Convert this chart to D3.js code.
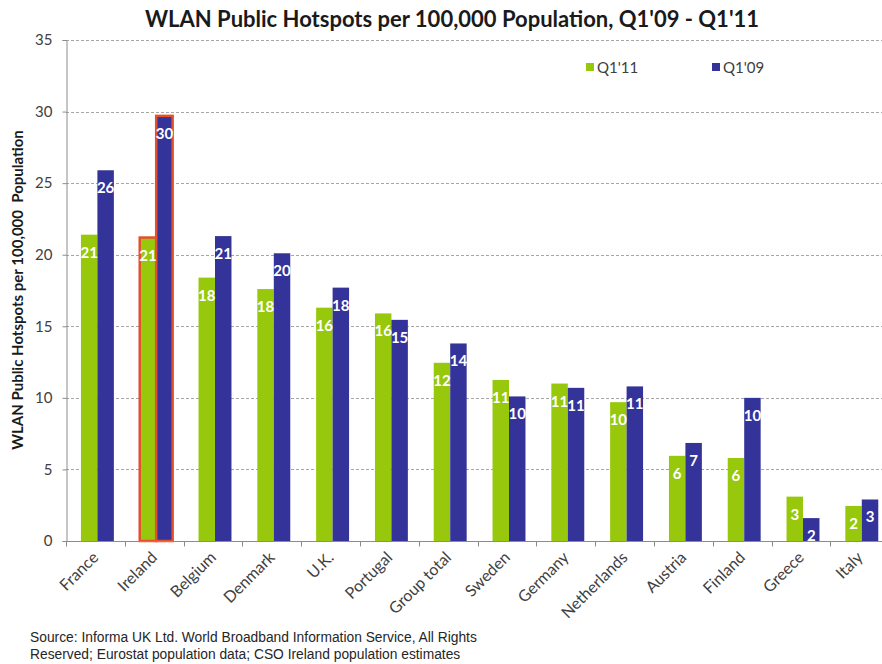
<!DOCTYPE html>
<html>
<head>
<meta charset="utf-8">
<script src="https://cdn.jsdelivr.net/npm/d3@7"></script>
<style>
  html, body { margin: 0; padding: 0; background: #fff; }
  svg { display: block; }
</style>
</head>
<body>
<svg id="chart" width="882" height="664"></svg>
<script>
// Countries, in the order shown
const countries = ["France", "Ireland", "Belgium", "Denmark", "U.K.", "Portugal", "Group total",
  "Sweden", "Germany", "Netherlands", "Austria", "Finland", "Greece", "Italy"];
// Hotspots per 100,000 population
const q111 = [21.4, 21.2, 18.4, 17.6, 16.3, 15.9, 12.45, 11.25, 11.0, 9.7, 5.95, 5.8, 3.1, 2.45];
const q109 = [25.9, 29.7, 21.3, 20.1, 17.7, 15.45, 13.8, 10.1, 10.7, 10.8, 6.85, 10.0, 1.6, 2.9];
const seriesNames = ["Q1'11", "Q1'09"];
const yTicks = [0, 5, 10, 15, 20, 25, 30, 35];
const highlighted = "Ireland";

const colors = { "Q1'11": "#97c80b", "Q1'09": "#333399" };
const font = "Lato, 'Open Sans', sans-serif";

const svg = d3.select("#chart");
const W = 882, H = 664;
const plotLeft = 66, plotTop = 40, plotBottom = 541;
const band = 58.8;

const x0 = d3.scaleBand().domain(countries)
  .range([plotLeft + 2, plotLeft + 2 + band * countries.length])
  .paddingInner(0.44).paddingOuter(0.22);
const x1 = d3.scaleBand().domain(seriesNames).range([0, x0.bandwidth()]).padding(0);
const y = d3.scaleLinear().domain([0, 35]).range([plotBottom, plotTop]);

const rows = countries.map((c, i) => ({ country: c, values: [
  { key: "Q1'11", value: q111[i] }, { key: "Q1'09", value: q109[i] }] }));

// gridlines
svg.append("g").selectAll("line").data(yTicks.filter(t => t > 0)).join("line")
  .attr("x1", plotLeft).attr("x2", W)
  .attr("y1", d => Math.round(y(d)) + 0.5).attr("y2", d => Math.round(y(d)) + 0.5)
  .attr("stroke", "#a6a6a6").attr("stroke-width", 1).attr("stroke-dasharray", "3,2");

// y axis
const yAxis = svg.append("g").attr("transform", `translate(${plotLeft + 0.5},0)`)
  .call(d3.axisLeft(y).tickValues(yTicks).tickSize(4).tickPadding(10));
yAxis.select(".domain").attr("stroke", "#8c8c8c");
yAxis.selectAll(".tick line").attr("stroke", "#8c8c8c");
yAxis.selectAll(".tick text").attr("font-family", font).attr("font-size", 15).attr("fill", "#404040");

// bars
const groups = svg.append("g").selectAll("g").data(rows).join("g")
  .attr("transform", d => `translate(${x0(d.country)},0)`);

groups.selectAll("rect").data(d => d.values.map(v => ({ ...v, country: d.country }))).join("rect")
  .attr("x", d => x1(d.key))
  .attr("y", d => y(d.value))
  .attr("width", x1.bandwidth())
  .attr("height", d => y(0) - y(d.value))
  .attr("fill", d => colors[d.key])
  .attr("stroke", d => d.country === highlighted ? "#e4502c" : "none")
  .attr("stroke-width", 2.5);

// value labels inside the bar tops
groups.selectAll("text").data(d => d.values).join("text")
  .attr("x", d => x1(d.key) + x1.bandwidth() / 2)
  .attr("y", d => y(d.value) + 23)
  .attr("text-anchor", "middle")
  .attr("font-family", font).attr("font-weight", "bold").attr("font-size", 15)
  .attr("fill", "#ffffff")
  .text(d => d3.format(".0f")(d.value));

// x axis
const xAxis = svg.append("g").attr("transform", `translate(0,${plotBottom + 0.5})`);
xAxis.append("line").attr("x1", plotLeft).attr("x2", W).attr("stroke", "#8c8c8c");
xAxis.selectAll("line.tk").data(d3.range(countries.length + 1)).join("line").attr("class", "tk")
  .attr("x1", i => Math.round(plotLeft + i * band) + 0.5).attr("x2", i => Math.round(plotLeft + i * band) + 0.5)
  .attr("y1", 0).attr("y2", 5).attr("stroke", "#8c8c8c");
xAxis.selectAll("text").data(countries).join("text")
  .attr("transform", d => `translate(${x0(d) + x0.bandwidth() / 2 + 2},${17}) rotate(-45)`)
  .attr("text-anchor", "end")
  .attr("font-family", font).attr("font-size", 16).attr("fill", "#404040")
  .text(d => d);

// title
svg.append("text").attr("x", 452).attr("y", 27).attr("text-anchor", "middle")
  .attr("font-family", font).attr("font-weight", "bold").attr("font-size", 22).attr("fill", "#1a1a1a")
  .text("WLAN Public Hotspots per 100,000 Population, Q1'09 - Q1'11");

// y axis title
svg.append("text").attr("transform", "translate(23,290) rotate(-90)").attr("text-anchor", "middle")
  .attr("font-family", font).attr("font-weight", "bold").attr("font-size", 15).attr("fill", "#1a1a1a")
  .style("white-space", "pre")
  .text("WLAN Public Hotspots per 100,000  Population");

// legend
const legendX = [586, 712];
const lg = svg.append("g").selectAll("g").data(seriesNames).join("g")
  .attr("transform", (d, i) => `translate(${legendX[i]},63)`);
lg.append("rect").attr("width", 8).attr("height", 8).attr("fill", d => colors[d]);
lg.append("text").attr("x", 11).attr("y", 9.5).attr("font-family", font).attr("font-size", 15)
  .attr("fill", "#404040").text(d => d);

// source note
const src = svg.append("text").attr("font-family", "'Liberation Sans', Arial, sans-serif")
  .attr("font-size", 13.8).attr("fill", "#262626");
src.append("tspan").attr("x", 30).attr("y", 642)
  .text("Source: Informa UK Ltd. World Broadband Information Service, All Rights");
src.append("tspan").attr("x", 30).attr("y", 659)
  .text("Reserved; Eurostat population data; CSO Ireland population estimates");
</script>
</body>
</html>
